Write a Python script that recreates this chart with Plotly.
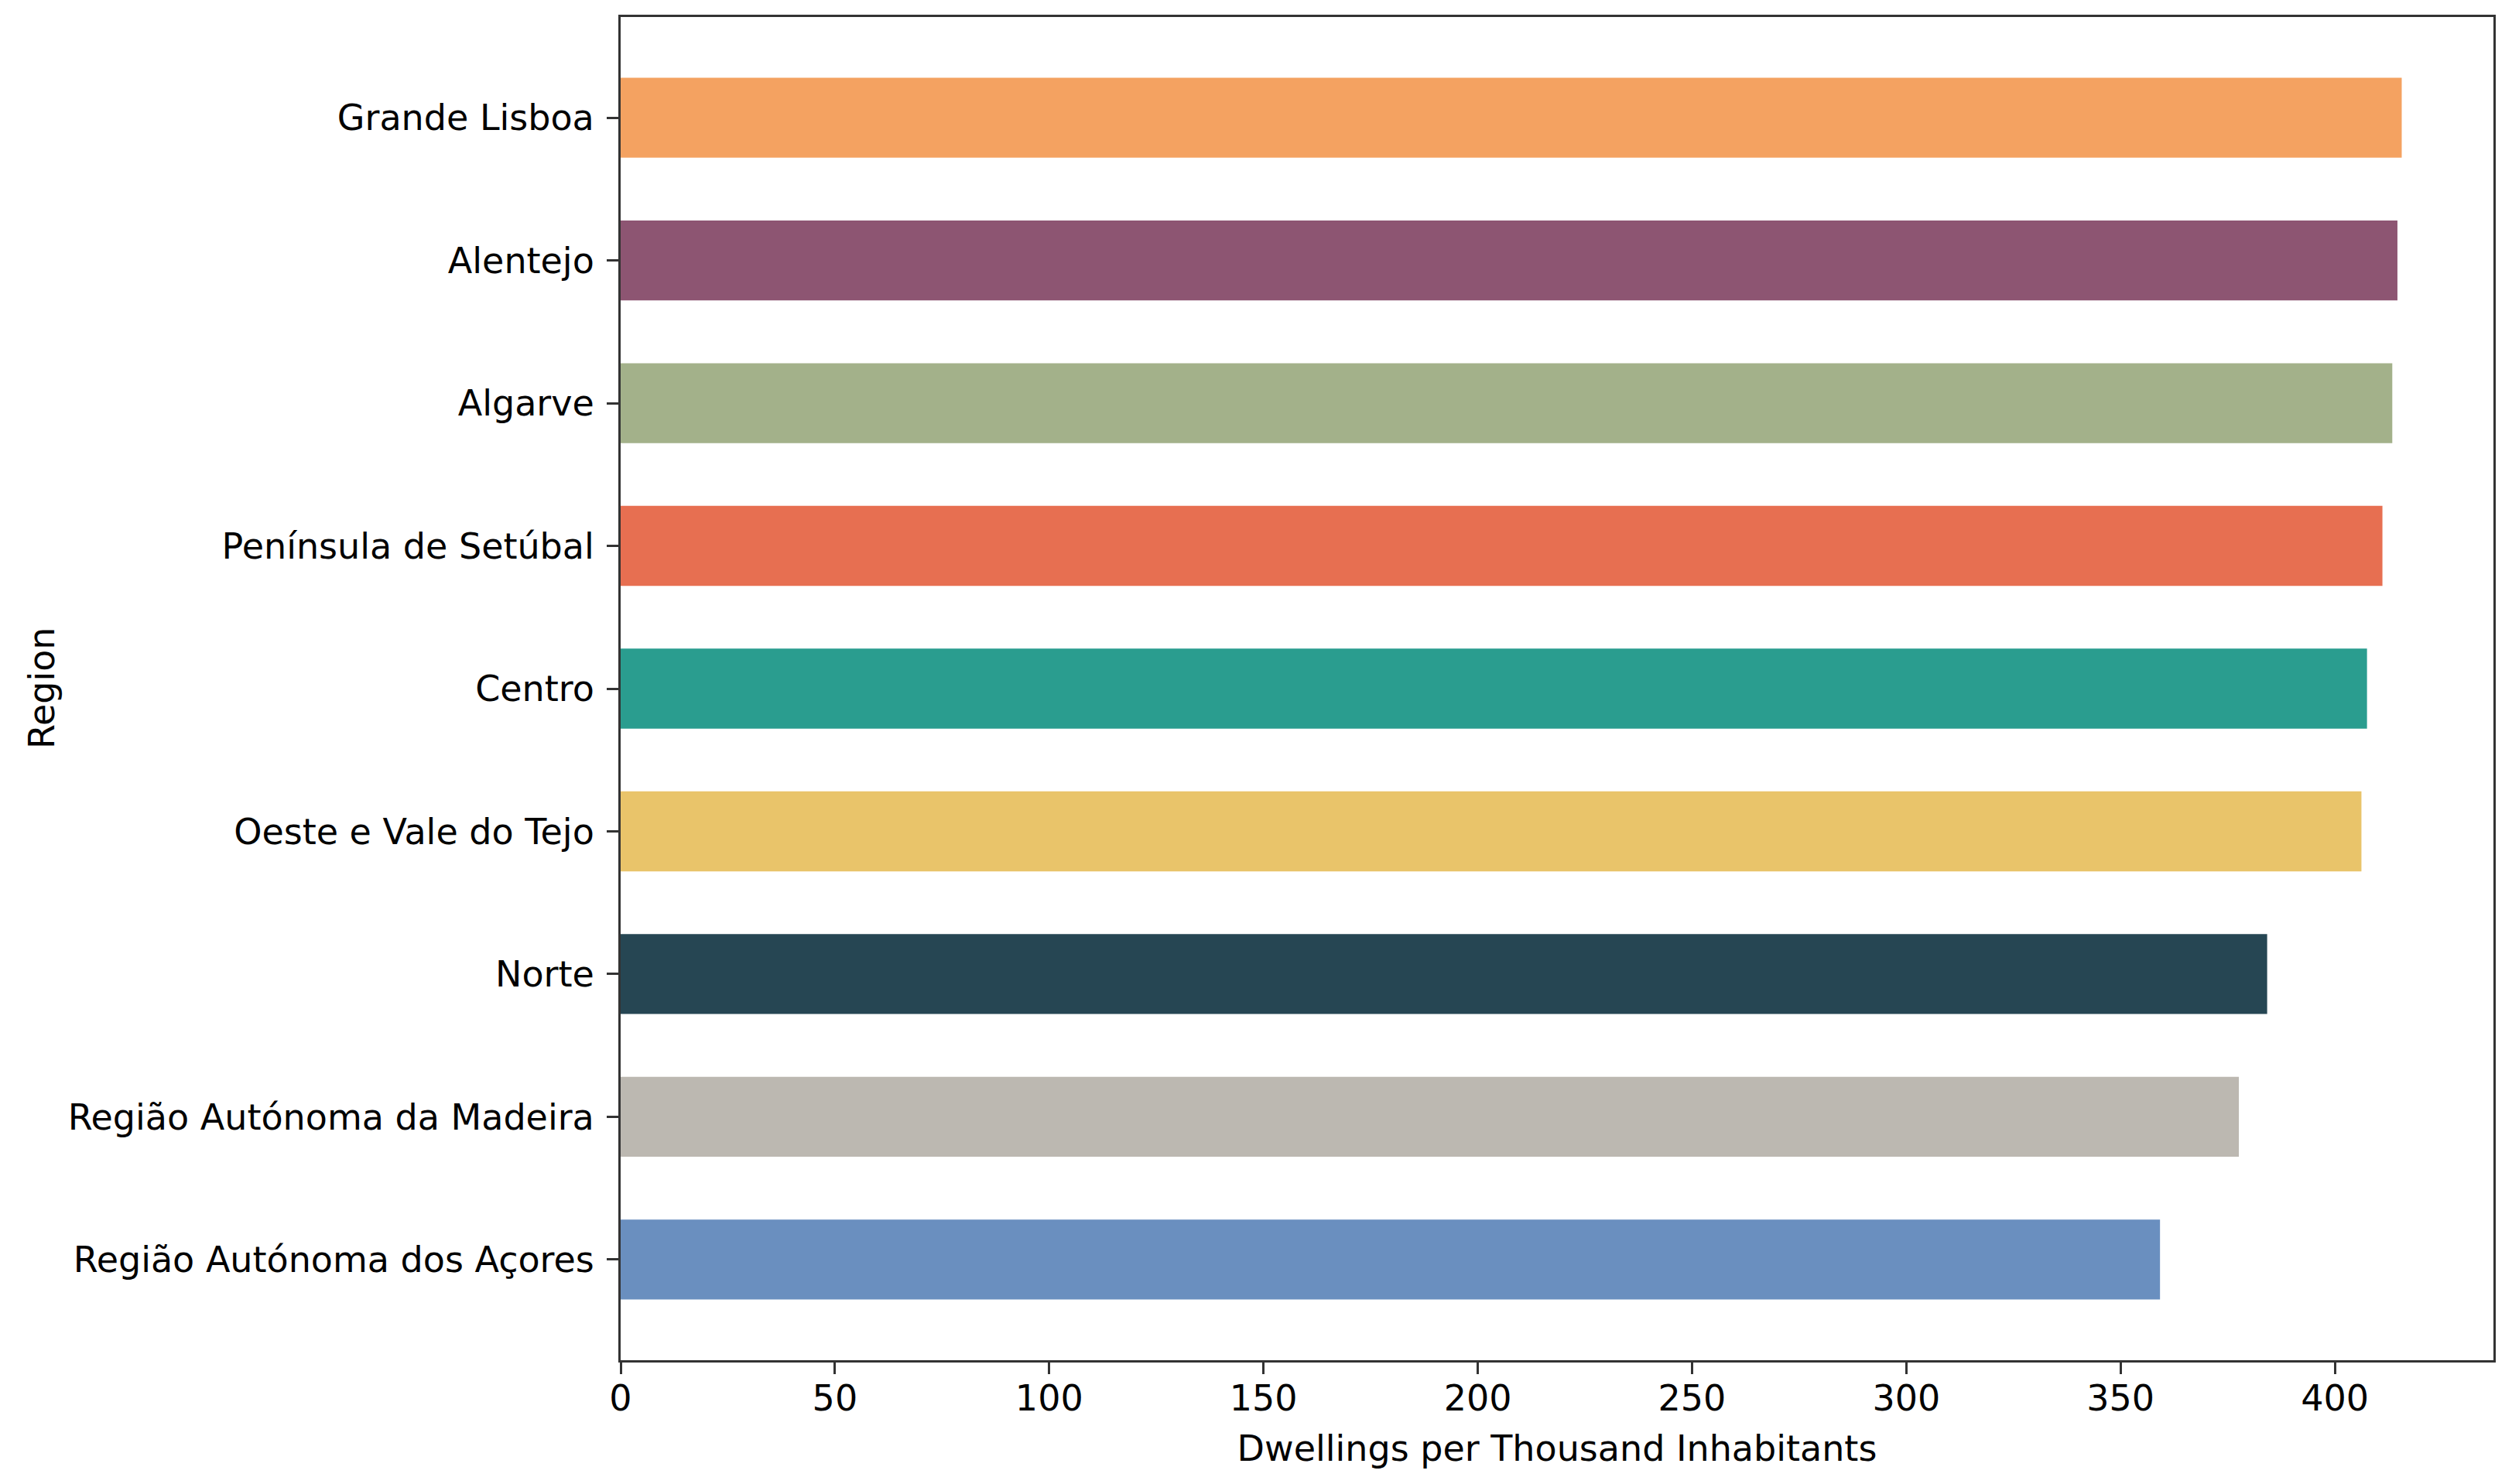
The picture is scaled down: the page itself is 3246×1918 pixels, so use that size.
import plotly.graph_objects as go

regions = [
    "Região Autónoma dos Açores",
    "Região Autónoma da Madeira",
    "Norte",
    "Oeste e Vale do Tejo",
    "Centro",
    "Península de Setúbal",
    "Algarve",
    "Alentejo",
    "Grande Lisboa",
]
dwellings = [359.2, 377.6, 384.2, 406.2, 407.5, 411.1, 413.4, 414.6, 415.6]
colors = [
    "#6A8FBF",
    "#BCB8B1",
    "#264653",
    "#E9C46A",
    "#2A9D8F",
    "#E76F51",
    "#A3B18A",
    "#8D5572",
    "#F4A261",
]
x_ticks = [0, 50, 100, 150, 200, 250, 300, 350, 400]

FONT = "DejaVu Sans"
FS = 46
W, H = 3246, 1918
ML, MR, MT, MB = 794, 32, 14, 168

fig = go.Figure(
    go.Bar(
        y=regions,
        x=dwellings,
        orientation="h",
        width=0.56,
        marker=dict(color=colors, line=dict(width=0)),
    )
)

fig.update_layout(
    width=W,
    height=H,
    margin=dict(l=ML, r=MR, t=MT, b=MB),
    paper_bgcolor="white",
    plot_bgcolor="white",
    showlegend=False,
    font=dict(family=FONT, size=FS, color="black"),
)

fig.update_xaxes(
    range=[0, 437],
    tickvals=x_ticks,
    ticktext=[str(v) for v in x_ticks],
    showgrid=False,
    zeroline=False,
    showline=True,
    linecolor="#333333",
    linewidth=3,
    mirror=True,
    ticks="outside",
    ticklen=15,
    tickwidth=3,
    tickcolor="#333333",
    ticklabelstandoff=-8,
    tickfont=dict(family=FONT, size=FS, color="black"),
    title=dict(text="Dwellings per Thousand Inhabitants",
               font=dict(family=FONT, size=FS, color="black"), standoff=23),
    automargin=False,
)

fig.update_yaxes(
    type="category",
    range=[-0.705, 8.705],
    showgrid=False,
    zeroline=False,
    showline=True,
    linecolor="#333333",
    linewidth=3,
    mirror=True,
    ticks="outside",
    ticklen=15,
    tickwidth=3,
    tickcolor="#333333",
    ticklabelstandoff=7,
    tickfont=dict(family=FONT, size=FS, color="black"),
    automargin=False,
)

# y-axis title placed as a rotated annotation in the left margin
fig.add_annotation(
    text="Region",
    xref="paper", yref="paper",
    x=(46 - ML) / (W - ML - MR), y=0.5,
    xanchor="center", yanchor="middle",
    textangle=-90,
    showarrow=False,
    font=dict(family=FONT, size=FS, color="black"),
)

fig.write_html("out.html")
